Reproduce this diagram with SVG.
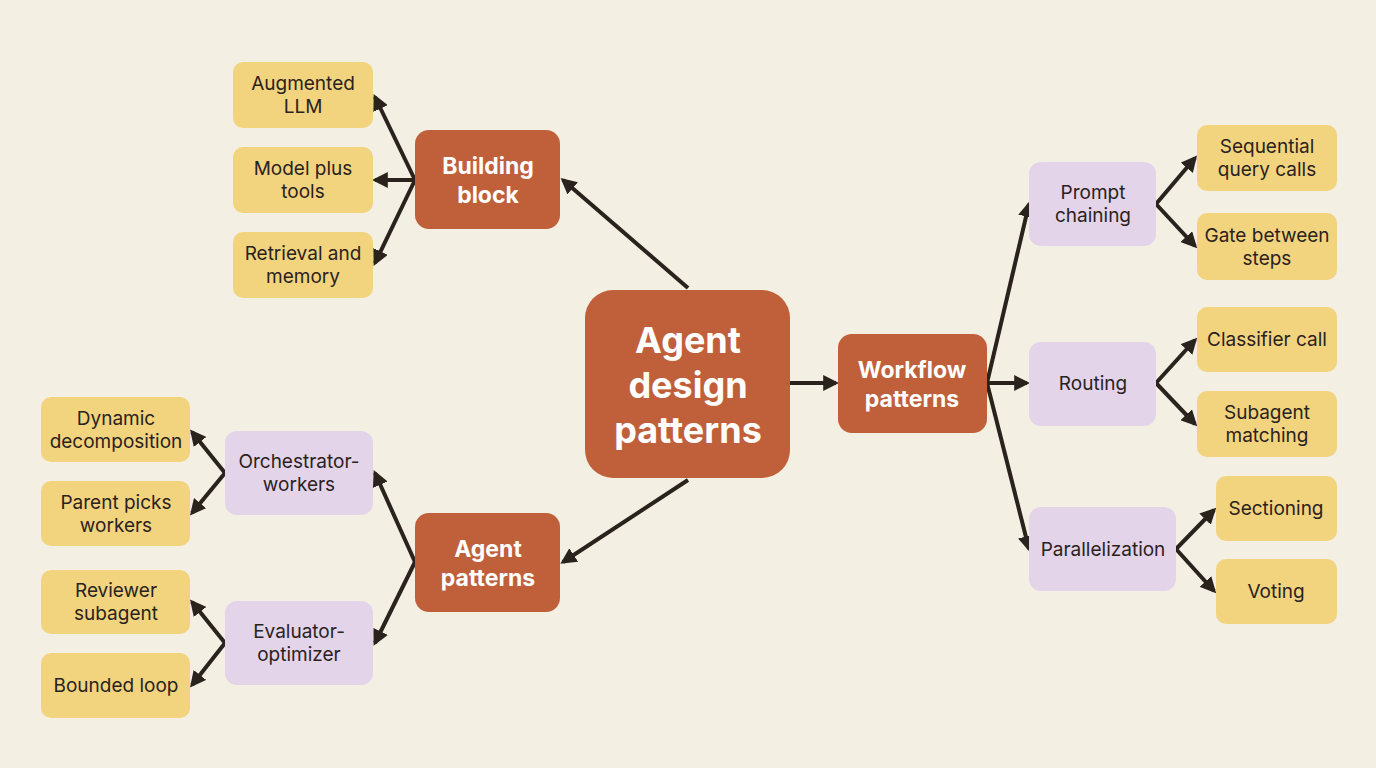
<svg xmlns="http://www.w3.org/2000/svg" width="1376" height="768" viewBox="0 0 1376 768">
<defs>
<marker id="ah" viewBox="0 0 10 10" refX="8" refY="5" markerWidth="4" markerHeight="4" orient="auto-start-reverse"><path d="M0,0 L10,5 L0,10 z" fill="#2a221d"/></marker>
<style>
.o{fill:#c0603b}.y{fill:#f2d47f}.p{fill:#e3d4ea}
.t{font-family:Inter,"Noto Sans",sans-serif;font-size:19px;fill:#2a221d;text-anchor:middle}
.w{font-family:Inter,"Noto Sans",sans-serif;font-size:23px;font-weight:bold;fill:#fff;text-anchor:middle}
.c{font-family:Inter,"Noto Sans",sans-serif;font-size:36px;font-weight:bold;fill:#fff;text-anchor:middle}
.l{fill:none;stroke:#2a221d;stroke-width:4;marker-end:url(#ah)}
</style>
</defs>
<rect width="1376" height="768" fill="#f3efe2"/>
<g id="connectors">
<path class="l" d="M688,288 L563,180"/>
<path class="l" d="M688,480 L563,562"/>
<path class="l" d="M790,383 L836,383"/>
<path class="l" d="M415,180 L375,97"/><path class="l" d="M415,180 L375,180"/><path class="l" d="M415,180 L375,263"/>
<path class="l" d="M415,562 L375,473"/><path class="l" d="M415,562 L375,643"/>
<path class="l" d="M225,473 L192,432"/><path class="l" d="M225,473 L192,513"/>
<path class="l" d="M225,643 L192,602"/><path class="l" d="M225,643 L192,685"/>
<path class="l" d="M987,383 L1029,204"/><path class="l" d="M987,383 L1027,383"/><path class="l" d="M987,383 L1029,549"/>
<path class="l" d="M1156,204 L1195,158"/><path class="l" d="M1156,204 L1195,246"/>
<path class="l" d="M1156,383 L1195,340"/><path class="l" d="M1156,383 L1195,424"/>
<path class="l" d="M1176,549 L1214,510"/><path class="l" d="M1176,549 L1214,591"/>
</g>
<g id="center"><rect class="o" x="585" y="290" width="205" height="188" rx="28"/><text class="c" x="688" y="353">Agent</text><text class="c" x="688" y="398">design</text><text class="c" x="688" y="443">patterns</text></g>
<g id="building"><rect class="o" x="415" y="130" width="145" height="99" rx="14"/><text class="w" x="488" y="174">Building</text><text class="w" x="488" y="203">block</text></g>
<g id="agentp"><rect class="o" x="415" y="513" width="145" height="99" rx="14"/><text class="w" x="488" y="557">Agent</text><text class="w" x="488" y="586">patterns</text></g>
<g id="workflow"><rect class="o" x="838" y="334" width="149" height="99" rx="14"/><text class="w" x="912" y="378">Workflow</text><text class="w" x="912" y="407">patterns</text></g>
<g id="aug"><rect class="y" x="233" y="62" width="140" height="66" rx="10"/><text class="t" x="303" y="90">Augmented</text><text class="t" x="303" y="113">LLM</text></g>
<g id="model"><rect class="y" x="233" y="147" width="140" height="66" rx="10"/><text class="t" x="303" y="175">Model plus</text><text class="t" x="303" y="198">tools</text></g>
<g id="retr"><rect class="y" x="233" y="232" width="140" height="66" rx="10"/><text class="t" x="303" y="260">Retrieval and</text><text class="t" x="303" y="283">memory</text></g>
<g id="orch"><rect class="p" x="225" y="431" width="148" height="84" rx="12"/><text class="t" x="299" y="468">Orchestrator-</text><text class="t" x="299" y="491">workers</text></g>
<g id="eval"><rect class="p" x="225" y="601" width="148" height="84" rx="12"/><text class="t" x="299" y="638">Evaluator-</text><text class="t" x="299" y="661">optimizer</text></g>
<g id="dyn"><rect class="y" x="41" y="397" width="149" height="65" rx="10"/><text class="t" x="116" y="425">Dynamic</text><text class="t" x="116" y="448">decomposition</text></g>
<g id="parent"><rect class="y" x="41" y="481" width="149" height="65" rx="10"/><text class="t" x="116" y="509">Parent picks</text><text class="t" x="116" y="532">workers</text></g>
<g id="reviewer"><rect class="y" x="41" y="570" width="149" height="64" rx="10"/><text class="t" x="116" y="597">Reviewer</text><text class="t" x="116" y="620">subagent</text></g>
<g id="bounded"><rect class="y" x="41" y="653" width="149" height="65" rx="10"/><text class="t" x="116" y="692">Bounded loop</text></g>
<g id="prompt"><rect class="p" x="1029" y="162" width="127" height="84" rx="12"/><text class="t" x="1093" y="199">Prompt</text><text class="t" x="1093" y="222">chaining</text></g>
<g id="routing"><rect class="p" x="1029" y="342" width="127" height="84" rx="12"/><text class="t" x="1093" y="390">Routing</text></g>
<g id="parallel"><rect class="p" x="1029" y="507" width="147" height="84" rx="12"/><text class="t" x="1103" y="556">Parallelization</text></g>
<g id="seq"><rect class="y" x="1197" y="125" width="140" height="66" rx="10"/><text class="t" x="1267" y="153">Sequential</text><text class="t" x="1267" y="176">query calls</text></g>
<g id="gate"><rect class="y" x="1197" y="213" width="140" height="67" rx="10"/><text class="t" x="1267" y="242">Gate between</text><text class="t" x="1267" y="265">steps</text></g>
<g id="classifier"><rect class="y" x="1197" y="307" width="140" height="65" rx="10"/><text class="t" x="1267" y="346">Classifier call</text></g>
<g id="subagent"><rect class="y" x="1197" y="391" width="140" height="66" rx="10"/><text class="t" x="1267" y="419">Subagent</text><text class="t" x="1267" y="442">matching</text></g>
<g id="sectioning"><rect class="y" x="1216" y="476" width="121" height="65" rx="10"/><text class="t" x="1276" y="515">Sectioning</text></g>
<g id="voting"><rect class="y" x="1216" y="559" width="121" height="65" rx="10"/><text class="t" x="1276" y="598">Voting</text></g>
</svg>
